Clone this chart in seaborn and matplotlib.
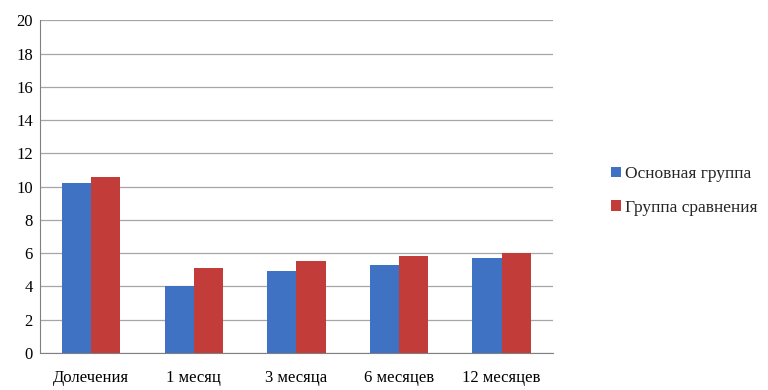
import pandas as pd
import matplotlib.pyplot as plt
import seaborn as sns

# Data
categories = ["Долечения", "1 месяц", "3 месяца", "6 месяцев", "12 месяцев"]
main_group = [10.2, 4.0, 4.9, 5.3, 5.7]
compare_group = [10.6, 5.1, 5.5, 5.8, 6.0]
series_names = ["Основная группа", "Группа сравнения"]
y_ticks = list(range(0, 21, 2))

df = pd.DataFrame({
    "period": categories * 2,
    "value": main_group + compare_group,
    "group": [series_names[0]] * len(categories) + [series_names[1]] * len(categories),
})

sns.set_style("white")
plt.rcParams['font.family'] = ['Liberation Serif', 'DejaVu Serif']

fig = plt.figure(figsize=(7.68, 3.9), dpi=100)
ax = fig.add_axes([0.052, 0.095, 0.668, 0.853])

sns.barplot(data=df, x="period", y="value", hue="group",
            palette=["#3f72c2", "#c23d39"], saturation=1, width=0.57,
            edgecolor="none", ax=ax, zorder=3)

ax.set_ylim(0, 20)
ax.set_yticks(y_ticks)
ax.set_xlim(-0.5, len(categories) - 0.5)
ax.yaxis.grid(True, color="#a6a6a6", linewidth=0.9, zorder=0)
ax.set_xlabel("")
ax.set_ylabel("")
ax.tick_params(axis="both", labelsize=12, colors="black", length=0)
ax.tick_params(axis="y", pad=5)
ax.tick_params(axis="x", pad=12)

# category separators like the Excel axis
ax.set_xticks([i - 0.5 for i in range(len(categories) + 1)], minor=True)
ax.tick_params(axis="x", which="minor", length=5, color="#808080", direction="out")

for side in ["top", "right"]:
    ax.spines[side].set_visible(False)
for side in ["left", "bottom"]:
    ax.spines[side].set_color("#808080")

leg = ax.legend(loc="center left", bbox_to_anchor=(1.083, 0.487), frameon=False,
                fontsize=12.5, handlelength=0.55, handleheight=0.55,
                handletextpad=0.25, labelspacing=1.0)

fig.savefig("out.png", dpi=100)
